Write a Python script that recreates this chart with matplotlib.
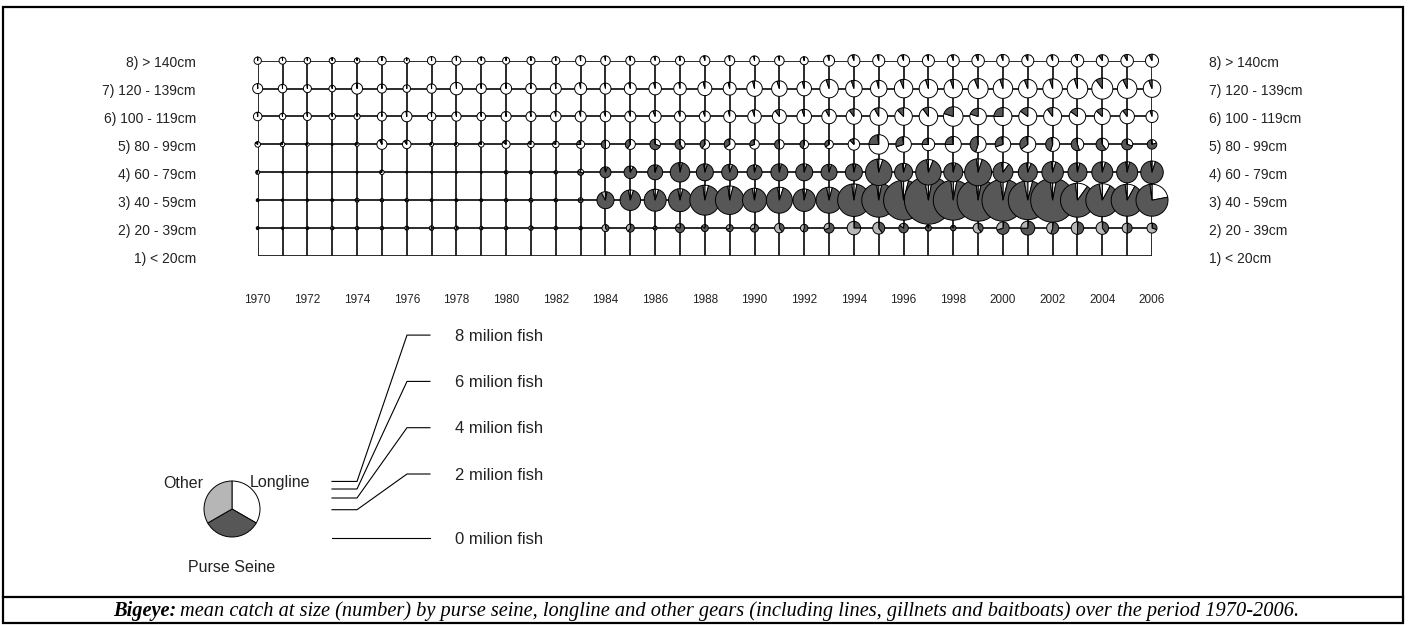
import matplotlib
import numpy as np

matplotlib.use("Agg")
import matplotlib.pyplot as plt
from matplotlib.patches import Rectangle, Wedge
from matplotlib.transforms import ScaledTranslation, blended_transform_factory

years = list(range(1970, 2007))
size_labels = [
    "8) > 140cm",
    "7) 120 - 139cm",
    "6) 100 - 119cm",
    "5) 80 - 99cm",
    "4) 60 - 79cm",
    "3) 40 - 59cm",
    "2) 20 - 39cm",
    "1) < 20cm",
]
size_index = [8, 7, 6, 5, 4, 3, 2, 1]

# mean catch (thousand fish) per size class, top row (> 140cm) first
catch_k = [
    [133, 122, 106, 90, 76, 181, 76, 172, 202, 141, 122, 160, 160, 250, 226, 202, 202, 202, 250,
     250, 226, 226, 160, 302, 360, 360, 360, 360, 360, 391, 391, 360, 360, 391, 360, 391, 422],
    [250, 181, 160, 106, 302, 202, 141, 216, 391, 250, 302, 276, 302, 360, 302, 360, 391, 391, 490,
     422, 601, 601, 526, 856, 681, 681, 856, 856, 856, 1000, 951, 856, 951, 1051, 1102, 951, 766],
    [181, 106, 160, 106, 90, 202, 276, 181, 216, 181, 250, 250, 276, 302, 276, 302, 360, 302, 302,
     360, 456, 490, 526, 526, 601, 766, 766, 856, 951, 681, 810, 810, 810, 681, 640, 526, 360],
    [76, 51, 31, 10, 40, 250, 181, 40, 40, 76, 160, 106, 106, 160, 181, 250, 276, 250, 226,
     302, 226, 226, 181, 181, 331, 951, 601, 391, 640, 640, 601, 640, 490, 391, 391, 302, 226],
    [40, 10, 10, 6, 10, 51, 10, 10, 10, 10, 31, 31, 31, 90, 302, 391, 562, 951, 722,
     640, 562, 722, 722, 640, 722, 1756, 810, 1626, 902, 1822, 1000, 902, 1156, 902, 1102, 1102, 1266],
    [22, 16, 16, 22, 40, 31, 31, 22, 22, 22, 31, 40, 31, 62, 722, 1051, 1210, 1322, 2250,
     2031, 1440, 1690, 1266, 1690, 2641, 2890, 4000, 5760, 4000, 4410, 4410, 3803, 4840, 2890, 2722, 2560, 2560],
    [22, 16, 22, 31, 31, 31, 40, 51, 40, 31, 31, 51, 31, 31, 122, 160, 40, 202, 122,
     122, 160, 226, 141, 250, 456, 360, 226, 90, 76, 250, 391, 490, 360, 391, 391, 250, 250],
    [0, 0, 0, 0, 0, 0, 0, 0, 0, 0, 0, 0, 0, 0, 0, 0, 0, 0, 0,
     0, 0, 0, 0, 0, 0, 0, 0, 0, 0, 0, 0, 0, 0, 0, 0, 0, 0],
]

# share of the catch taken by longline (%), same row order
longline_pct = [
    [99, 99, 99, 99, 99, 99, 99, 99, 99, 99, 98, 98, 98, 98, 97, 97, 96, 97, 96,
     97, 97, 96, 97, 96, 95, 96, 95, 96, 95, 94, 95, 94, 95, 93, 91, 92, 93],
    [99, 99, 99, 99, 99, 99, 99, 99, 99, 98, 98, 98, 98, 97, 97, 96, 96, 97, 96,
     96, 96, 95, 96, 95, 95, 96, 94, 95, 95, 94, 95, 94, 95, 95, 90, 93, 94],
    [98, 98, 98, 98, 98, 98, 98, 98, 97, 97, 97, 97, 97, 96, 95, 95, 94, 95, 95,
     96, 95, 90, 95, 92, 90, 92, 88, 90, 80, 80, 75, 85, 90, 85, 87, 90, 95],
    [85, 80, 70, 40, 70, 92, 90, 75, 70, 80, 85, 80, 80, 75, 50, 60, 30, 40, 60,
     65, 70, 50, 55, 65, 88, 75, 70, 75, 75, 55, 70, 65, 55, 45, 40, 30, 20],
    [60, 40, 40, 30, 40, 70, 40, 40, 40, 40, 40, 40, 40, 30, 6, 8, 5, 4, 5,
     6, 5, 4, 5, 5, 4, 5, 5, 6, 4, 5, 10, 6, 5, 4, 5, 4, 5],
    [30, 30, 30, 30, 30, 30, 30, 30, 30, 30, 30, 30, 30, 20, 3, 5, 5, 4, 4,
     4, 3, 5, 4, 4, 3, 3, 4, 3, 3, 3, 4, 4, 3, 10, 8, 8, 22],
    [20, 20, 20, 20, 20, 20, 20, 20, 20, 20, 20, 20, 20, 20, 3, 3, 2, 2, 2,
     2, 2, 2, 2, 2, 2, 2, 2, 2, 2, 2, 2, 2, 2, 2, 2, 2, 2],
    [0, 0, 0, 0, 0, 0, 0, 0, 0, 0, 0, 0, 0, 0, 0, 0, 0, 0, 0,
     0, 0, 0, 0, 0, 0, 0, 0, 0, 0, 0, 0, 0, 0, 0, 0, 0, 0],
]

# share taken by other gears (lines, gillnets, baitboats) (%); purse seine is the rest
other_pct = [
    [0, 0, 0, 0, 0, 0, 0, 0, 0, 0, 0, 0, 0, 0, 0, 0, 0, 0, 0,
     0, 0, 0, 0, 0, 0, 0, 0, 0, 0, 0, 0, 0, 0, 0, 0, 0, 0],
    [0, 0, 0, 0, 0, 0, 0, 0, 0, 0, 0, 0, 0, 0, 0, 0, 0, 0, 0,
     0, 0, 0, 0, 0, 0, 0, 0, 0, 0, 0, 0, 0, 0, 0, 0, 0, 0],
    [0, 0, 0, 0, 0, 0, 0, 0, 0, 0, 0, 0, 0, 0, 0, 0, 0, 0, 0,
     0, 0, 0, 0, 0, 0, 0, 0, 0, 0, 0, 0, 0, 0, 0, 0, 0, 0],
    [5, 5, 10, 20, 10, 2, 3, 10, 10, 5, 5, 5, 5, 5, 2, 2, 2, 2, 2,
     2, 2, 2, 2, 2, 2, 2, 2, 2, 2, 2, 2, 2, 2, 2, 2, 2, 2],
    [10, 20, 20, 20, 20, 10, 20, 20, 20, 20, 20, 20, 20, 20, 3, 2, 2, 2, 2,
     2, 2, 2, 2, 2, 2, 2, 2, 2, 2, 2, 2, 2, 2, 2, 2, 2, 2],
    [20, 20, 20, 20, 20, 20, 20, 20, 20, 20, 20, 20, 20, 20, 8, 3, 3, 3, 2,
     2, 3, 2, 2, 3, 2, 2, 2, 3, 2, 2, 2, 3, 2, 2, 3, 2, 2],
    [40, 40, 40, 40, 40, 40, 40, 40, 40, 40, 40, 40, 40, 40, 60, 40, 30, 20, 15,
     30, 30, 60, 45, 30, 75, 60, 15, 10, 10, 60, 30, 25, 45, 50, 60, 50, 70],
    [0, 0, 0, 0, 0, 0, 0, 0, 0, 0, 0, 0, 0, 0, 0, 0, 0, 0, 0,
     0, 0, 0, 0, 0, 0, 0, 0, 0, 0, 0, 0, 0, 0, 0, 0, 0, 0],
]

gear_names = ["Longline", "Purse Seine", "Other"]
scale_millions = [8, 6, 4, 2, 0]

GEAR_COLORS = ["#ffffff", "#575757", "#b6b6b6"]
INCH_PER_SQRT_MILLION = 0.2  # pie diameter for sqrt(million fish)
SANS = "Liberation Sans"
SERIF = "Liberation Serif"
TEXT = "#222222"
W, H = 1410, 625

figure = plt.figure(figsize=(W / 100, H / 100), dpi=100)

# full-figure overlay in pixel units for frame, legend and caption
overlay = figure.add_axes([0, 0, 1, 1])
overlay.set_xlim(0, W)
overlay.set_ylim(H, 0)
overlay.set_autoscale_on(False)
overlay.axis("off")

grid = figure.add_axes([257.7 / W, 1 - 256 / H, (1152 - 257.7) / W, (256 - 60.7) / H])
grid.set_xlim(years[0], years[-1])
grid.set_ylim(1, 8)
grid.set_autoscale_on(False)
grid.axis("off")


def draw_pie(axis, x, y, radius, shares, zorder=3):
    place = figure.dpi_scale_trans + ScaledTranslation(x, y, axis.transData)
    start = 90.0
    for share, color in zip(shares, GEAR_COLORS):
        if share <= 0:
            continue
        sweep = 360.0 * share
        axis.add_patch(
            Wedge(
                (0, 0), radius, start - sweep, start,
                transform=place, facecolor=color, edgecolor="black",
                linewidth=0.7, clip_on=False, zorder=zorder,
            )
        )
        start -= sweep


# grid lines
grid.vlines(years, 1, 8, color="#1a1a1a", linewidth=1.3, zorder=1)
grid.hlines(size_index, years[0], years[-1], color="#1a1a1a", linewidth=1.3, zorder=1)

# pies, bottom rows first so upper rows sit on top
for row in reversed(range(len(size_index))):
    for col, year in enumerate(years):
        total = catch_k[row][col]
        if total <= 0:
            continue
        ll = longline_pct[row][col] / 100
        ot = other_pct[row][col] / 100
        ps = 1 - ll - ot
        radius = INCH_PER_SQRT_MILLION * np.sqrt(total / 1000) / 2
        draw_pie(grid, year, size_index[row], radius, [ll, ps, ot], zorder=3 + col * 0.001)

# size-class labels on both sides
side_trans = blended_transform_factory(figure.transFigure, grid.transData)
for label, cls in zip(size_labels, size_index):
    grid.text(196 / W, cls - 0.1, label, transform=side_trans, ha="right", va="center",
              fontsize=10, family=SANS, color=TEXT)
    grid.text(1209 / W, cls - 0.1, label, transform=side_trans, ha="left", va="center",
              fontsize=10, family=SANS, color=TEXT)

# year labels every two years
for year in years[::2]:
    grid.text(year, -0.225, str(year), transform=grid.get_xaxis_transform(),
              ha="center", va="center", fontsize=8.5, family=SANS, color=TEXT)

# size legend: stub heights follow the pie diameter scale
base_y = 538
stub_x0, stub_x1, bend_x, end_x = 332, 357, 407, 430
for millions in scale_millions:
    if millions == 0:
        label_y = base_y
        overlay.plot([stub_x0, end_x], [base_y, base_y], color="black", linewidth=0.8)
    else:
        label_y = 474 - 46.3 * (millions / 2 - 1)
        stub_y = base_y - INCH_PER_SQRT_MILLION * np.sqrt(millions) * figure.dpi
        overlay.plot([stub_x0, stub_x1, bend_x, end_x], [stub_y, stub_y, label_y, label_y],
                     color="black", linewidth=0.8)
    overlay.text(455, label_y + 1, f"{millions} milion fish", ha="left", va="center",
                 fontsize=12, family=SANS, color=TEXT)

# gear legend pie
draw_pie(overlay, 232, 509, 0.28, [1 / 3, 1 / 3, 1 / 3])
overlay.text(163, 484, gear_names[2], ha="left", va="center", fontsize=11.5, family=SANS, color=TEXT)
overlay.text(250, 482, gear_names[0], ha="left", va="center", fontsize=11.5, family=SANS, color=TEXT)
overlay.text(232, 567, gear_names[1], ha="center", va="center", fontsize=11.5, family=SANS, color=TEXT)

# frame and caption
overlay.add_patch(Rectangle((3, 7), 1400, 616, fill=False, edgecolor="black", linewidth=1.6))
overlay.plot([3, 1403], [597, 597], color="black", linewidth=1.6)
head = overlay.text(113, 611, "Bigeye:", ha="left", va="center", fontsize=14.7, family=SERIF,
                    fontweight="bold", style="italic")
overlay.annotate(
    "mean catch at size (number) by purse seine, longline and other gears "
    "(including lines, gillnets and baitboats) over the period 1970-2006.",
    xy=(1, 0.5), xycoords=head, xytext=(3, 0), textcoords="offset points",
    ha="left", va="center", fontsize=14.7, family=SERIF, style="italic",
)

figure.savefig("out.png", dpi=100)
plt.close(figure)
